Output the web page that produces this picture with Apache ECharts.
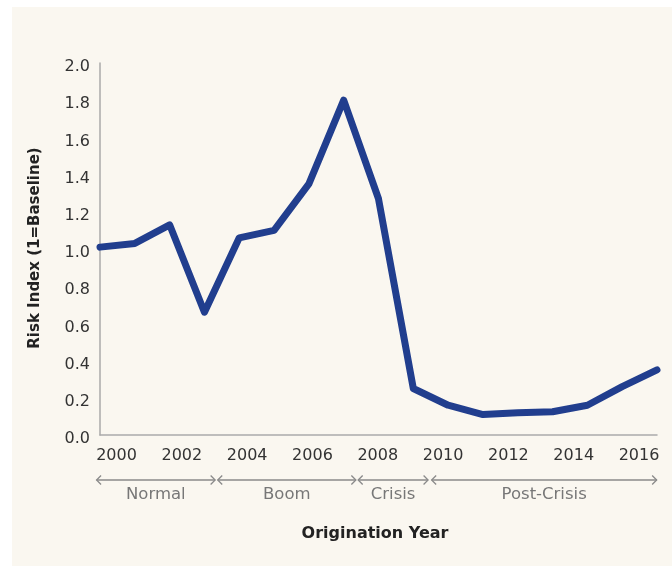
<!DOCTYPE html>
<html>
<head>
<meta charset="utf-8">
<script src="https://cdn.jsdelivr.net/npm/echarts@6/dist/echarts.min.js"></script>
<style>
  html, body { margin: 0; padding: 0; background: #ffffff; }
  #panel { position: absolute; left: 12px; top: 7px; width: 660px; height: 559px; background: #FAF7F0; }
  #chart { position: absolute; left: 0; top: 0; width: 672px; height: 566px; }
</style>
</head>
<body>
<div id="panel"></div>
<div id="chart"></div>
<script>
// Risk index by origination year (1 = baseline), one point per observation
const riskIndex = [1.01, 1.03, 1.13, 0.66, 1.06, 1.10, 1.35, 1.80, 1.27, 0.25, 0.16, 0.11, 0.12, 0.125, 0.16, 0.26, 0.35];

// Year labels shown along the bottom
const yearTicks = [2000, 2002, 2004, 2006, 2008, 2010, 2012, 2014, 2016];
const yearRange = [1999.495, 2016.55];

// Periods marked with arrows under the year labels (in year units)
const periodNames = ['Normal', 'Boom', 'Crisis', 'Post-Crisis'];
const periodStart = [1999.39, 2003.10, 2007.40, 2009.65];
const periodEnd = [2003.02, 2007.33, 2009.54, 2016.54];

const yTicks = [0, 0.2, 0.4, 0.6, 0.8, 1.0, 1.2, 1.4, 1.6, 1.8, 2.0];

const FONT = 'DejaVu Sans';
const chart = echarts.init(document.getElementById('chart'), null, { renderer: 'canvas' });

const seriesData = riskIndex.map((v, i) => [i, v]);

chart.setOption({
  backgroundColor: 'transparent',
  animation: false,
  grid: { left: 100, right: 15, top: 63, bottom: 131, containLabel: false },
  xAxis: [
    { type: 'value', min: 0, max: riskIndex.length - 1, show: false },
    {
      type: 'value', min: yearRange[0], max: yearRange[1], position: 'bottom',
      axisLine: { show: true, onZero: false, lineStyle: { color: '#aaaaaa', width: 1.5 } },
      axisTick: { show: false },
      splitLine: { show: false },
      axisLabel: {
        customValues: yearTicks, margin: 13,
        color: '#333333', fontFamily: FONT, fontSize: 16,
        formatter: v => String(Math.round(v))
      }
    }
  ],
  yAxis: {
    type: 'value', min: 0, max: 2, interval: 0.2,
    axisLine: { show: true, lineStyle: { color: '#aaaaaa', width: 1.5 } },
    axisTick: { show: false },
    splitLine: { show: false },
    axisLabel: {
      customValues: yTicks, margin: 10, verticalAlign: 'top', lineHeight: 8,
      color: '#333333', fontFamily: FONT, fontSize: 16,
      formatter: v => v.toFixed(1)
    }
  },
  series: [{
    type: 'line', xAxisIndex: 0, data: seriesData,
    showSymbol: false, symbol: 'none',
    lineStyle: { color: '#213E8E', width: 7, cap: 'round', join: 'round' }
  }]
});

// Period arrows and captions, positioned through the year axis
function drawPeriods() {
  const els = [];
  const arrowY = 480, head = 4.5;
  const stroke = { stroke: '#8a8a8a', lineWidth: 1.3, fill: null };
  periodNames.forEach((name, i) => {
    const x1 = chart.convertToPixel({ xAxisIndex: 1 }, periodStart[i]);
    const x2 = chart.convertToPixel({ xAxisIndex: 1 }, periodEnd[i]);
    els.push({ type: 'line', shape: { x1, y1: arrowY, x2, y2: arrowY }, style: stroke, silent: true });
    els.push({ type: 'polyline', shape: { points: [[x1 + head, arrowY - head], [x1, arrowY], [x1 + head, arrowY + head]] }, style: stroke, silent: true });
    els.push({ type: 'polyline', shape: { points: [[x2 - head, arrowY - head], [x2, arrowY], [x2 - head, arrowY + head]] }, style: stroke, silent: true });
    els.push({
      type: 'text', x: (x1 + x2) / 2, y: 495, silent: true,
      style: { text: name, fill: '#777777', font: '16.5px "' + FONT + '"', align: 'center', verticalAlign: 'middle' }
    });
  });
  els.push({
    type: 'text', x: 375, y: 534, silent: true,
    style: { text: 'Origination Year', fill: '#222222', font: 'bold 16px "' + FONT + '"', align: 'center', verticalAlign: 'middle' }
  });
  els.push({
    type: 'text', x: 35, y: 248, rotation: Math.PI / 2, silent: true,
    style: { text: 'Risk Index (1=Baseline)', fill: '#222222', font: 'bold 15px "' + FONT + '"', align: 'center', verticalAlign: 'middle' }
  });
  chart.setOption({ graphic: { elements: els } });
}
drawPeriods();
</script>
</body>
</html>
